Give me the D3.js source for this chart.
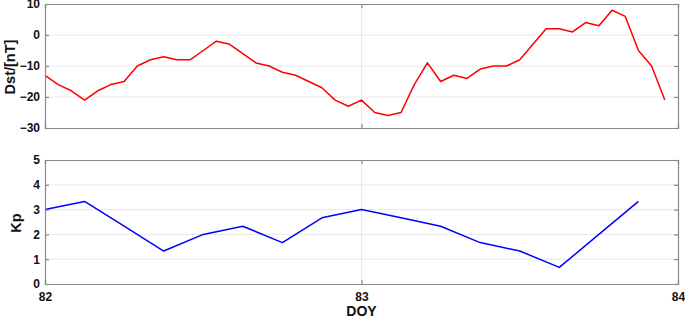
<!DOCTYPE html>
<html>
<head>
<meta charset="utf-8">
<script src="https://cdn.jsdelivr.net/npm/d3@7"></script>
<style>
  body { margin: 0; background: #fff; }
  text { font-family: "Liberation Sans", Arial, sans-serif; font-weight: bold; fill: #111; }
</style>
</head>
<body>
<svg id="chart" width="685" height="318"></svg>
<script>
// hourly Dst, starting at DOY 82.0
const dstHours = d3.range(0, 48);
const dstValues = [-13, -16, -18, -21, -18, -16, -15, -10, -8, -7, -8, -8, -5, -2, -3, -6,
    -9, -10, -12, -13, -15, -17, -21, -23, -21, -25, -26, -25, -16, -9, -15, -13,
    -14, -11, -10, -10, -8, -3, 2, 2, 1, 4, 3, 8, 6, -5, -10, -21];

// 3-hourly Kp
const kpHours = [0, 3, 6, 9, 12, 15, 18, 21, 24, 27, 30, 33, 36, 39, 42, 45];
const kpValues = [3, 3.33, 2.33, 1.33, 2, 2.33, 1.67, 2.67, 3, 2.67, 2.33, 1.67, 1.33, 0.67, 2, 3.33];

const xTicks = [82, 83, 84];
const dstTicks = [-30, -20, -10, 0, 10];
const kpTicks = [0, 1, 2, 3, 4, 5];

const svg = d3.select("#chart");
const left = 45, right = 678;

const x = d3.scaleLinear().domain([82, 84]).range([left, right]);

function panel(top, bottom, domain, ticks, values, hours, colour, label, labelX) {
    const y = d3.scaleLinear().domain(domain).range([bottom, top]);
    const g = svg.append("g");

    // grid
    g.selectAll("line.hgrid").data(ticks.slice(1, -1)).enter().append("line")
        .attr("x1", left).attr("x2", right)
        .attr("y1", d => y(d)).attr("y2", d => y(d))
        .attr("stroke", "#e8e8e8").attr("stroke-width", 1);
    g.selectAll("line.vgrid").data(xTicks.slice(1, -1)).enter().append("line")
        .attr("x1", d => x(d)).attr("x2", d => x(d))
        .attr("y1", top).attr("y2", bottom)
        .attr("stroke", "#e8e8e8").attr("stroke-width", 1);

    // data
    const line = d3.line().x((d, i) => x(82 + hours[i] / 24)).y(d => y(d));
    g.append("path").datum(values)
        .attr("d", line)
        .attr("fill", "none")
        .attr("stroke", colour)
        .attr("stroke-width", 1.5)
        .attr("stroke-linejoin", "round");

    // axes, ticks inside on all sides
    const axL = d3.axisLeft(y).tickValues(ticks).tickSize(-4).tickPadding(5).tickFormat(d3.format("d"));
    const axR = d3.axisRight(y).tickValues(ticks).tickSize(-4).tickFormat("");
    const axT = d3.axisTop(x).tickValues(xTicks).tickSize(-4).tickFormat("");
    const axB = d3.axisBottom(x).tickValues(xTicks).tickSize(-4).tickPadding(8).tickFormat(d3.format("d"));

    g.append("g").attr("transform", `translate(${left},0)`).call(axL);
    g.append("g").attr("transform", `translate(${right},0)`).call(axR);
    g.append("g").attr("transform", `translate(0,${top})`).call(axT);
    const gb = g.append("g").attr("transform", `translate(0,${bottom})`).call(axB);

    g.selectAll(".domain").attr("stroke", "#8a8a8a").attr("stroke-width", 1.2);
    g.selectAll(".tick line").attr("stroke", "#8a8a8a").attr("stroke-width", 1.2);
    g.selectAll(".tick text").attr("font-size", 12).attr("font-family", "Liberation Sans, Arial, sans-serif")
        .attr("font-weight", "bold").attr("fill", "#111");

    svg.append("text")
        .attr("transform", `translate(${labelX},${(top + bottom) / 2 + 1}) rotate(-90)`)
        .attr("text-anchor", "middle")
        .attr("font-size", 14.5)
        .text(label);

    return gb;
}

const gTop = panel(4, 128, [-30, 10], dstTicks, dstValues, dstHours, "#ff0000", "Dst/[nT]", 14.5);
gTop.selectAll(".tick text").remove();
panel(160, 284, [0, 5], kpTicks, kpValues, kpHours, "#0000ff", "Kp", 21);

svg.append("text")
    .attr("x", x(83))
    .attr("y", 316)
    .attr("text-anchor", "middle")
    .attr("font-size", 14)
    .text("DOY");
</script>
</body>
</html>
